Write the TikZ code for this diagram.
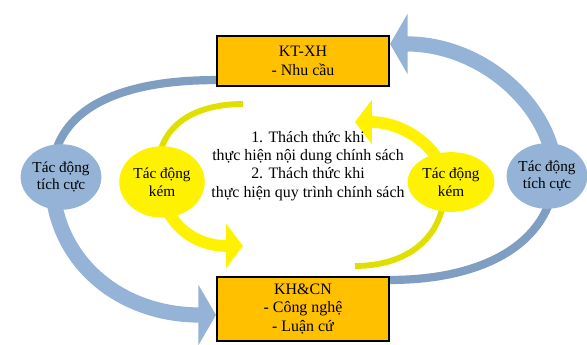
\documentclass[tikz,border=0pt]{standalone}
\usepackage{fontspec}
\setmainfont{Liberation Serif}
\usepackage{tikz}
\usetikzlibrary{arrows.meta,calc,backgrounds,shapes.geometric}

\definecolor{boxorange}{HTML}{FFC000}
\definecolor{ovalblue}{HTML}{95B3D7}
\definecolor{arcblue}{HTML}{809DC2}
\definecolor{arcyellow}{HTML}{E0E000}

\tikzset{
  box/.style={draw=black, line width=1.8pt, fill=boxorange, minimum width=146.8pt, align=center, inner sep=0pt},
  blueoval/.style={ellipse, fill=ovalblue, align=center, inner sep=0pt, font=\fontsize{13}{15}\selectfont},
  yellowoval/.style={ellipse, fill=yellow, align=center, inner sep=0pt, font=\fontsize{13}{15}\selectfont},
  bluethin/.style={draw=arcblue, line width=7pt},
  bluethick/.style={draw=ovalblue, line width=13pt, -{Triangle[length=15pt, width=51pt]}},
  yellowthin/.style={draw=arcyellow, line width=5pt},
  yellowthick/.style={draw=yellow, line width=10pt, -{Triangle[length=14.5pt, width=37.5pt]}}
}

\begin{document}
\begin{tikzpicture}[x=0.03cm, y=-0.03cm, font=\fontsize{13.6}{15.6}\selectfont]
        \useasboundingbox (0,0) rectangle (587,345);

        % boxes
        \node[box, minimum height=42.7pt] (ktxh) at (303,61) {KT-XH\\- Nhu cầu};
        \node[box, minimum height=54.6pt] (khcn) at (303,309) {KH\&CN\\- Công nghệ\\- Luận cứ};

        % ovals
        \node[blueoval, minimum width=58pt, minimum height=56pt] (tichL) at (61,177) {Tác động\\tích cực};
        \node[blueoval, minimum width=68pt, minimum height=56pt] (tichR) at (547,176) {Tác động\\tích cực};
        \node[yellowoval, minimum width=73pt, minimum height=61pt] (kemL) at (162,182) {Tác động\\kém};
        \node[yellowoval, minimum width=74pt, minimum height=51pt] (kemR) at (451,182) {Tác động\\kém};

        \node[align=center] (thachthuc) at (308,166) {1. Thách thức khi\\thực hiện nội dung chính sách\\2. Thách thức khi\\thực hiện quy trình chính sách};

        \begin{pgfonlayer}{background}
        % blue arcs
        \draw [bluethin] ($(ktxh.south west)+(0,-7)$) .. controls +(-107,0) and +(0,-62) .. ($(tichL.center)+(-9,0)$);
        \draw [bluethick] ($(tichL.center)+(-9,0)$) .. controls +(0,83) and +(-97,0) .. ($(khcn.west)+(0,6)$);
        \draw [bluethin] ($(khcn.north east)+(0,4)$) .. controls +(91,0) and +(-5,69) .. ($(tichR.center)+(8,0)$);
        \draw [bluethick] ($(tichR.center)+(8,0)$) .. controls +(0,-66) and +(95,0) .. ($(ktxh.north east)+(0,9)$);

        % yellow arcs
        \draw [yellowthin] ($(kemL.center)+(81,-78)$) .. controls +(-48,0) and +(0,-45) .. ($(kemL.center)+(-4,-12)$);
        \draw [yellowthick] ($(kemL.center)+(-4,-12)$) .. controls +(2,55) and +(-48,0) .. ($(kemL.center)+(81,64)$);
        \draw [yellowthin] ($(kemR.center)+(-96,84)$) .. controls +(50,0) and +(0,55) .. ($(kemR.center)+(-6,3)$);
        \draw [yellowthick] ($(kemR.center)+(-6,3)$) .. controls +(0,-35) and +(50,0) .. ($(kemR.center)+(-96,-60)$);
        \end{pgfonlayer}
        \end{tikzpicture}
\end{document}
